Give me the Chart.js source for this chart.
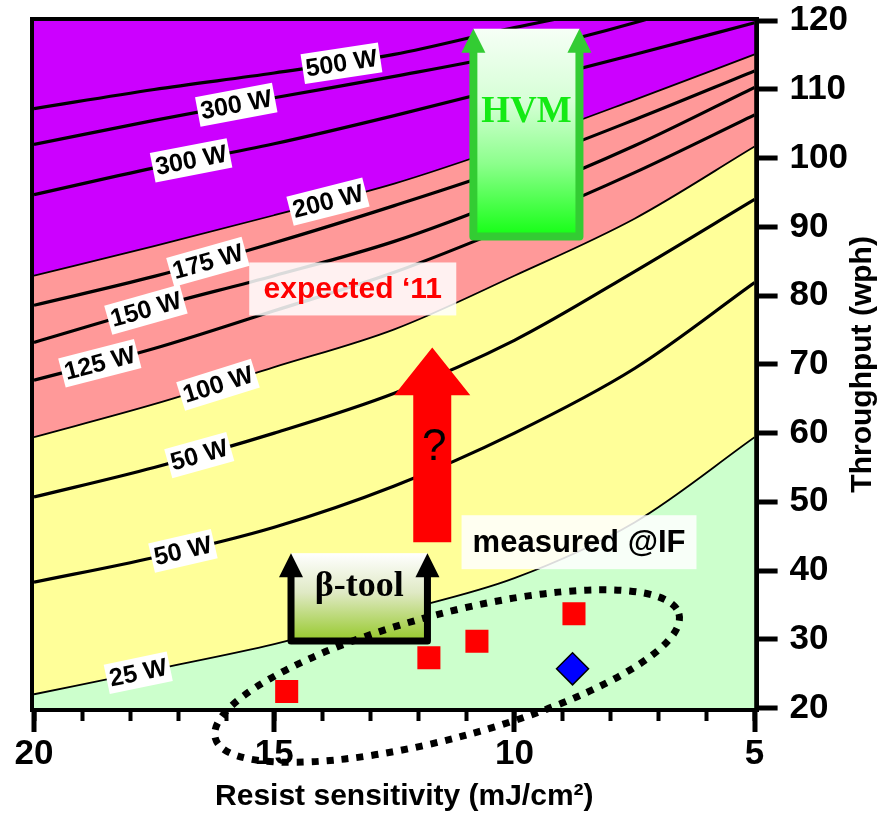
<!DOCTYPE html>
<html lang="en">
<head>
<meta charset="UTF-8">
<title>Throughput vs resist sensitivity</title>
<script src="https://cdn.jsdelivr.net/npm/chart.js"></script>
<style>
  html, body { margin: 0; padding: 0; background: #fff; }
  canvas { display: block; }
</style>
</head>
<body>
<canvas id="chart" width="882" height="819"></canvas>
<script>
// resist sensitivity samples (mJ/cm2) shared by every contour
const sensitivity = [20, 17.5, 15, 12.5, 10, 7.5, 5];

// throughput (wph) along each source power contour
const p500  = [107.2, 110.0, 112.4, 115.1, 119.0, 122.5, 125.8];
const p300a = [102.0, 105.5, 108.8, 111.9, 115.3, 119.7, 125.2];
const p300b = [94.7, 98.6, 102.1, 106.2, 110.6, 115.1, 119.7];
const p200  = [82.9, 87.2, 91.7, 96.3, 102.1, 108.5, 115.1];
const p175  = [78.6, 82.8, 87.7, 93.1, 98.9, 105.6, 112.7];
const p150  = [73.2, 78.3, 82.9, 87.9, 94.4, 101.8, 110.3];
const p125  = [67.7, 72.3, 77.8, 83.4, 90.3, 97.9, 106.3];
const p100  = [59.4, 64.2, 69.6, 75.1, 82.9, 91.2, 101.7];
const p50a  = [50.7, 55.0, 60.0, 65.8, 73.5, 83.5, 94.0];
const p50b  = [38.3, 41.9, 46.3, 52.3, 60.0, 69.4, 81.9];
const p25   = [22.0, 25.6, 29.3, 33.9, 38.9, 47.0, 59.4];

// tool measurements
const measuredX = [14.74, 11.78, 10.78, 8.76];
const measuredY = [22.4, 27.3, 29.7, 33.7];
const diamondX = [8.79];
const diamondY = [25.7];

const xTicks = [20, 15, 10, 5];
const yTicks = [20, 30, 40, 50, 60, 70, 80, 90, 100, 110, 120];

const SANS = "'Liberation Sans', Arial, Helvetica, sans-serif";
const SERIF = "'Liberation Serif', 'Times New Roman', serif";

function pts(ys) {
    return sensitivity.map((x, i) => ({ x: x, y: ys[i] }));
}

function contour(label, ys, tagAt, width) {
    return {
        label: label,
        data: pts(ys),
        tagAt: tagAt,
        borderColor: '#000',
        borderWidth: width,
        pointRadius: 0,
        pointHoverRadius: 0,
        fill: false,
        cubicInterpolationMode: 'monotone',
        order: 2
    };
}

const datasets = [
    Object.assign(contour('200 W', p200, 13.88, 1.8), { fill: 'end', backgroundColor: '#cc00ff' }),
    Object.assign(contour('100 W', p100, 16.17, 1.8), { fill: 0, backgroundColor: '#ff9999' }),
    Object.assign(contour('25 W', p25, 17.83, 1.8), { fill: 1, backgroundColor: '#ffff99' }),
    Object.assign(contour('', p25, null, 1), { fill: 'start', backgroundColor: '#ccffcc', borderColor: 'transparent' }),
    contour('500 W', p500, 13.6, 3.2),
    contour('300 W', p300a, 15.79, 3.2),
    contour('300 W', p300b, 16.73, 3.2),
    contour('175 W', p175, 16.38, 3.2),
    contour('150 W', p150, 17.67, 3.2),
    contour('125 W', p125, 18.63, 3.2),
    contour('50 W', p50a, 16.56, 3.2),
    contour('50 W', p50b, 16.9, 3.2),
    {
        label: 'measured',
        data: measuredX.map((x, i) => ({ x: x, y: measuredY[i] })),
        showLine: false,
        pointStyle: 'rect',
        pointRadius: 16.3,
        backgroundColor: '#ff0000',
        borderColor: '#ff0000',
        borderWidth: 0,
        order: 0
    },
    {
        label: 'measured (alt)',
        data: diamondX.map((x, i) => ({ x: x, y: diamondY[i] })),
        showLine: false,
        pointStyle: 'rectRot',
        pointRadius: 16,
        backgroundColor: '#0000ff',
        borderColor: '#000',
        borderWidth: 1.5,
        order: 0
    }
];

// point on a drawn contour at pixel x, with the local direction
function onCurve(points, px) {
    const bez = (p, t) => {
        const u = 1 - t;
        return u * u * u * p[0] + 3 * u * u * t * p[1] + 3 * u * t * t * p[2] + t * t * t * p[3];
    };
    for (let i = 0; i < points.length - 1; i++) {
        const a = points[i], b = points[i + 1];
        if (px < a.x || px > b.x) continue;
        const bx = [a.x, a.cp2x ?? a.x, b.cp1x ?? b.x, b.x];
        const by = [a.y, a.cp2y ?? a.y, b.cp1y ?? b.y, b.y];
        let lo = 0, hi = 1;
        for (let k = 0; k < 40; k++) {
            const mid = (lo + hi) / 2;
            if (bez(bx, mid) < px) lo = mid; else hi = mid;
        }
        const t = (lo + hi) / 2;
        const t2 = Math.min(1, t + 0.01), t1 = Math.max(0, t - 0.01);
        return {
            x: bez(bx, t),
            y: bez(by, t),
            angle: Math.atan2(bez(by, t2) - bez(by, t1), bez(bx, t2) - bez(bx, t1))
        };
    }
    return null;
}

function upFrame(ctx, xl, xr, yTop, yBot, color, lineW, stops) {
    const head = 24;
    const g = ctx.createLinearGradient(0, yTop, 0, yBot);
    stops.forEach(s => g.addColorStop(s[0], s[1]));
    ctx.fillStyle = g;
    ctx.fillRect(xl, yTop, xr - xl, yBot - yTop);
    ctx.strokeStyle = color;
    ctx.lineWidth = lineW;
    ctx.lineJoin = 'round';
    ctx.beginPath();
    ctx.moveTo(xl, yTop + head - 1);
    ctx.lineTo(xl, yBot);
    ctx.lineTo(xr, yBot);
    ctx.lineTo(xr, yTop + head - 1);
    ctx.stroke();
    ctx.fillStyle = color;
    [xl, xr].forEach(x => {
        ctx.beginPath();
        ctx.moveTo(x - head / 2, yTop + head);
        ctx.lineTo(x, yTop);
        ctx.lineTo(x + head / 2, yTop + head);
        ctx.closePath();
        ctx.fill();
    });
}

function noteBox(ctx, x1, y1, x2, y2, text, font, color) {
    ctx.fillStyle = 'rgba(255,255,255,0.86)';
    ctx.fillRect(x1, y1, x2 - x1, y2 - y1);
    ctx.font = font;
    ctx.fillStyle = color;
    ctx.textAlign = 'center';
    ctx.textBaseline = 'middle';
    ctx.fillText(text, (x1 + x2) / 2, (y1 + y2) / 2 + 1);
}

const annotate = {
    id: 'annotate',
    afterDatasetsDraw(chart) {
        const ctx = chart.ctx;
        const X = v => chart.scales.x.getPixelForValue(v);
        const Y = v => chart.scales.y.getPixelForValue(v);

        // contour tags
        ctx.save();
        ctx.font = 'bold 25px ' + SANS;
        ctx.textAlign = 'center';
        ctx.textBaseline = 'middle';
        chart.data.datasets.forEach((ds, i) => {
            if (ds.tagAt == null) return;
            const line = chart.getDatasetMeta(i).dataset;
            const p = onCurve(line.points, X(ds.tagAt));
            if (!p) return;
            const w = ctx.measureText(ds.label).width + 6;
            ctx.save();
            ctx.translate(p.x, p.y);
            ctx.rotate(p.angle);
            ctx.fillStyle = '#fff';
            ctx.fillRect(-w / 2, -15, w, 30);
            ctx.fillStyle = '#000';
            ctx.fillText(ds.label, 0, 1);
            ctx.restore();
        });
        ctx.restore();

        ctx.save();
        // HVM target
        upFrame(ctx, X(10.854), X(8.646), Y(118.84), Y(88.6), '#33cc33', 8,
            [[0, '#f6fff6'], [0.35, '#d6ffd6'], [0.65, '#8cff8c'], [1, '#14ff14']]);
        ctx.font = 'bold 37px ' + SERIF;
        ctx.fillStyle = '#14ea14';
        ctx.textAlign = 'center';
        ctx.textBaseline = 'middle';
        ctx.fillText('HVM', X(9.75), Y(106.6));

        // expected 2011
        noteBox(ctx, X(15.52), Y(84.83), X(11.21), Y(77.12), 'expected \u201811', 'bold 30px ' + SANS, '#ff0000');

        // red arrow
        const ax = X(11.71);
        ctx.fillStyle = '#ff0000';
        ctx.beginPath();
        ctx.moveTo(ax, Y(72.47));
        ctx.lineTo(ax + 38, Y(65.5));
        ctx.lineTo(ax + 19, Y(65.5));
        ctx.lineTo(ax + 19, Y(44.1));
        ctx.lineTo(ax - 19, Y(44.1));
        ctx.lineTo(ax - 19, Y(65.5));
        ctx.lineTo(ax - 38, Y(65.5));
        ctx.closePath();
        ctx.fill();
        ctx.font = '44px ' + SANS;
        ctx.fillStyle = '#000';
        ctx.textAlign = 'center';
        ctx.textBaseline = 'middle';
        ctx.fillText('?', X(11.67), Y(57.9));

        // beta tool
        upFrame(ctx, X(14.65), X(11.81), Y(42.53), Y(29.74), '#000', 7,
            [[0, '#ffffff'], [0.45, '#dfe9c4'], [1, '#96c92a']]);
        ctx.font = 'bold 36px ' + SERIF;
        ctx.fillStyle = '#000';
        ctx.fillText('\u03b2-tool', X(13.23), Y(37.6));

        noteBox(ctx, X(11.10), Y(48.05), X(6.21), Y(40.20), 'measured @IF', 'bold 31px ' + SANS, '#000');
        ctx.restore();
    },
    afterDraw(chart) {
        const ctx = chart.ctx;
        const area = chart.chartArea;
        const X = v => chart.scales.x.getPixelForValue(v);
        const Y = v => chart.scales.y.getPixelForValue(v);
        ctx.save();
        // spread of the measured tools
        ctx.strokeStyle = '#000';
        ctx.lineWidth = 7;
        ctx.setLineDash([7, 8]);
        ctx.beginPath();
        ctx.ellipse(X(11.40), Y(24.65), 240, 62, -15 * Math.PI / 180, 0, Math.PI * 2);
        ctx.stroke();
        ctx.setLineDash([]);

        // axis titles
        ctx.fillStyle = '#000';
        ctx.font = 'bold 30px ' + SANS;
        ctx.textAlign = 'center';
        ctx.textBaseline = 'middle';
        ctx.fillText('Resist sensitivity (mJ/cm\u00b2)', (area.left + area.right) / 2 + 10, chart.height - 22);
        ctx.translate(chart.width - 19, (area.top + area.bottom) / 2);
        ctx.rotate(-Math.PI / 2);
        ctx.fillText('Throughput (wph)', 0, 0);
        ctx.restore();
    }
};

const xTickFont = { family: SANS, size: 35, weight: 'bold', lineHeight: 1 };
const yTickFont = { family: SANS, size: 35, weight: 'bold', lineHeight: 0.5 };

new Chart(document.getElementById('chart').getContext('2d'), {
    type: 'line',
    data: { datasets: datasets },
    options: {
        responsive: false,
        animation: false,
        events: [],
        layout: { padding: { left: 34, top: 20, right: 22, bottom: 42 } },
        plugins: {
            legend: { display: false },
            tooltip: { enabled: false },
            filler: { drawTime: 'beforeDatasetsDraw' }
        },
        scales: {
            x: {
                type: 'linear', min: 5, max: 20, reverse: true, position: 'bottom', z: 1,
                afterBuildTicks: s => { s.ticks = xTicks.map(v => ({ value: v })); },
                border: { display: true, width: 8, color: '#000' },
                grid: { display: true, drawOnChartArea: false, lineWidth: 8, tickLength: 24, tickWidth: 5, tickColor: '#000' },
                ticks: { color: '#000', font: xTickFont, padding: 5, maxRotation: 0 }
            },
            xMinor: {
                type: 'linear', axis: 'x', min: 5, max: 20, reverse: true, position: { y: 20 }, z: 1,
                border: { display: false },
                grid: { display: true, drawOnChartArea: false, tickLength: 13, tickWidth: 4, tickColor: '#000' },
                ticks: { display: false, stepSize: 1 }
            },
            xTop: {
                type: 'linear', axis: 'x', min: 5, max: 20, reverse: true, position: { y: 120 }, z: 1,
                border: { display: true, width: 8, color: '#000' },
                grid: { display: true, drawOnChartArea: false, drawTicks: false, lineWidth: 8 },
                ticks: { display: false }
            },
            y: {
                type: 'linear', min: 20, max: 120, position: 'right', z: 1,
                afterBuildTicks: s => { s.ticks = yTicks.map(v => ({ value: v })); },
                border: { display: true, width: 8, color: '#000' },
                grid: { display: true, drawOnChartArea: false, lineWidth: 8, tickLength: 23, tickWidth: 5, tickColor: '#000' },
                ticks: { color: '#000', font: yTickFont, padding: 12 }
            },
            yLeft: {
                type: 'linear', axis: 'y', min: 20, max: 120, position: { x: 20 }, z: 1,
                border: { display: true, width: 8, color: '#000' },
                grid: { display: true, drawOnChartArea: false, drawTicks: false, lineWidth: 8 },
                ticks: { display: false }
            }
        }
    },
    plugins: [annotate]
});
</script>
</body>
</html>
